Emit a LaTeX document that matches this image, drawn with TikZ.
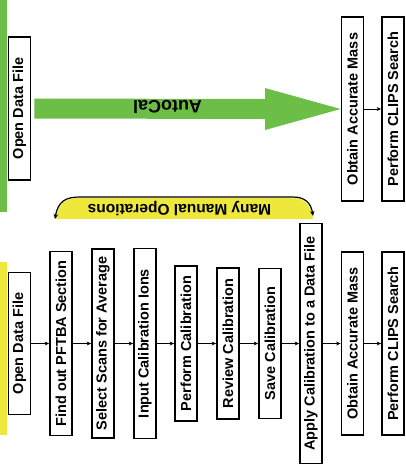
\documentclass[tikz,border=0pt]{standalone}
\usepackage{fontspec}
\setmainfont{Liberation Sans}
\usetikzlibrary{arrows.meta,calc}
\definecolor{greenc}{RGB}{108,190,70}
\definecolor{yellowc}{RGB}{238,232,60}
\begin{document}
\begin{tikzpicture}[x=1pt,y=-1pt,
  stepbox/.style={draw,line width=1.8pt,rotate=90,inner sep=0pt,minimum height=22pt,
    font=\fontsize{14.5}{17}\selectfont\bfseries},
  flow/.style={line width=0.8pt,-{Stealth[length=4.5pt,width=4pt]}}]
\useasboundingbox (0,0) rectangle (406,467);
% side bars
\fill[greenc] (0,0) rectangle (7,212);
\fill[yellowc] (0,262) rectangle (7,435);
% top row
\node[stepbox,minimum width=143pt] (t1) at (19.5,108.5) {Open Data File};
\node[stepbox,minimum width=184pt] (t2) at (352.5,109) {Obtain Accurate Mass};
\node[stepbox,minimum width=184pt] (t3) at (393,109) {Perform CLIPS Search};
\draw[flow] (t2.south) -- (t3.north);
\fill[greenc] ($(t1.south)+(3,-10)$) -- (265,99) -- (265,88) -- (t2.north) -- (265,130) -- (265,119) -- ($(t1.south)+(3,10)$) -- cycle;
\node[rotate=180,font=\fontsize{18}{20}\selectfont\bfseries,inner sep=0pt] (auto) at (167.5,107) {AutoCal};
% bottom row
\node[stepbox,minimum width=142pt] (b1) at (19.5,343.5) {Open Data File};
\node[stepbox,minimum width=184pt] (b2) at (61,343.5) {Find out PFTBA Section};
\node[stepbox,minimum width=189pt] (b3) at (103,343.5) {Select Scans for Average};
\node[stepbox,minimum width=190pt] (b4) at (145,343.5) {Input Calibration Ions};
\node[stepbox,minimum width=155pt] (b5) at (186,343.5) {Perform Calibration};
\node[stepbox,minimum width=151pt] (b6) at (228,343.5) {Review Calibration};
\node[stepbox,minimum width=150pt] (b7) at (270,343.5) {Save Calibration};
\node[stepbox,minimum width=240pt] (b8) at (311,343.5) {Apply Calibration to a Data File};
\node[stepbox,minimum width=183pt] (b9) at (352.5,343.5) {Obtain Accurate Mass};
\node[stepbox,minimum width=183pt] (b10) at (393,343.5) {Perform CLIPS Search};
\foreach \a/\b in {b1/b2,b2/b3,b3/b4,b4/b5,b5/b6,b6/b7,b7/b8,b8/b9,b9/b10}
  \draw[flow] (\a.south) -- (\b.north);
% many manual operations bracket
\coordinate (ml) at (55,219);
\coordinate (mr) at (313,216);
\fill[yellowc] (56,219) .. controls (58,202) and (66,198) .. (80,198) -- (293,198)
  .. controls (304,198) and (311,204) .. (313,219) -- cycle;
\draw[line width=1.2pt,{Stealth[length=5pt,width=4.5pt]}-{Stealth[length=5pt,width=4.5pt]}]
  (ml) .. controls (58,201) and (66,197) .. (80,197) -- (293,197)
  .. controls (305,197) and (311,203) .. (mr);
\node[rotate=180,font=\fontsize{15.5}{18}\selectfont\bfseries,inner sep=0pt] (many) at (179.5,208.5) {Many Manual Operations};
\end{tikzpicture}
\end{document}
